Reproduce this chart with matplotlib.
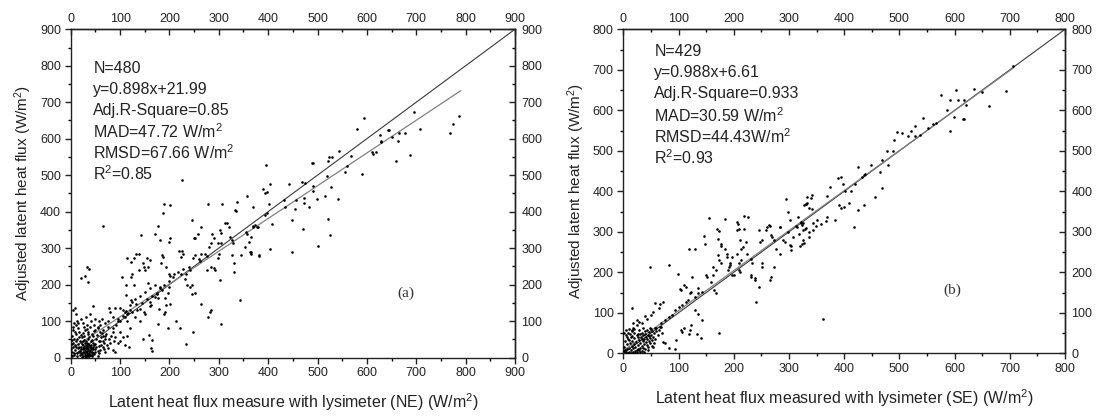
import matplotlib
matplotlib.use("Agg")
import matplotlib.pyplot as plt
import numpy as np
from matplotlib.ticker import MultipleLocator

plt.rcParams['font.family'] = ['Liberation Sans', 'DejaVu Sans']
plt.rcParams['mathtext.fontset'] = 'custom'
plt.rcParams['mathtext.rm'] = 'Liberation Sans'
plt.rcParams['mathtext.it'] = 'Liberation Sans:italic'

# panel (a): (lysimeter NE, adjusted flux) pairs
ne_upper = [(595, 656), (695, 672), (787, 661), (775, 641), (769, 616), (707, 627), (687, 554), (658, 539),
            (664, 594), (666, 616), (677, 615), (651, 605), (643, 624), (645, 624), (627, 609), (628, 595),
            (628, 590), (610, 563), (613, 557), (618, 563), (591, 504), (581, 626), (567, 553), (560, 525),
            (556, 508), (544, 567), (542, 435), (523, 551), (530, 551), (521, 539), (519, 498), (528, 467),
            (516, 443), (521, 379), (526, 336), (501, 306), (498, 435), (491, 471), (491, 457), (489, 533),
            (491, 533), (483, 412), (473, 425), (473, 437), (475, 478), (468, 481), (471, 352), (448, 377),
            (449, 290), (454, 406), (457, 432), (442, 475), (433, 433), (435, 413), (403, 475), (396, 528),
            (398, 453), (402, 421), (370, 413), (408, 366), (404, 298), (381, 279), (394, 392), (365, 331),
            (365, 288), (370, 360), (378, 358)]
ne_mid = [(65, 360), (20, 217), (28, 223), (32, 249), (37, 244), (35, 208), (226, 487), (190, 421), (201, 418),
          (186, 395), (177, 361), (170, 340), (181, 322), (199, 317), (202, 327), (143, 336), (133, 285),
          (128, 272), (122, 262), (114, 272), (138, 285), (155, 272), (160, 267), (146, 258), (148, 249),
          (156, 249), (103, 221), (112, 198), (128, 200), (122, 221), (124, 229), (138, 241), (150, 240),
          (156, 203), (112, 171), (122, 157), (124, 153), (117, 121), (111, 128), (133, 148), (141, 134),
          (149, 125), (160, 153), (162, 144), (174, 176), (181, 192), (183, 258), (185, 281), (186, 276),
          (193, 249), (199, 230), (207, 221), (202, 223), (199, 194), (192, 162), (197, 176), (176, 162),
          (179, 134), (193, 144), (202, 148), (188, 119), (192, 125), (176, 93), (197, 80), (214, 101),
          (222, 80), (233, 36), (248, 70), (165, 48), (163, 25), (165, 18), (158, 63), (146, 52), (220, 293),
          (226, 293), (228, 285), (224, 276), (224, 230), (227, 244), (217, 235), (234, 230), (241, 240),
          (240, 249), (231, 214), (236, 198), (241, 194), (245, 198), (252, 176), (245, 173), (247, 272),
          (252, 281), (259, 269), (257, 340), (264, 358), (245, 377), (250, 327), (252, 329), (261, 265),
          (263, 285), (273, 285), (277, 278), (280, 304), (284, 313), (284, 249), (290, 246), (292, 240),
          (277, 240), (263, 148), (283, 125), (284, 130), (279, 110), (287, 340), (291, 329), (302, 349),
          (304, 342), (298, 313), (304, 313), (300, 285), (304, 93), (302, 212), (278, 421), (307, 421),
          (312, 368), (316, 368), (321, 358), (298, 274), (323, 331), (326, 322), (328, 313), (326, 281),
          (330, 258), (330, 235), (332, 404), (335, 402), (337, 427), (342, 157), (344, 281), (355, 345),
          (358, 340), (362, 317), (353, 304), (358, 443), (363, 290), (366, 285), (370, 358), (373, 363),
          (380, 358), (382, 281), (390, 461), (394, 450), (397, 395)]
ne_low = [(5, 130), (8, 135), (10, 120), (12, 100), (15, 95), (5, 75), (3, 60), (20, 105), (25, 95), (30, 110),
          (40, 120), (45, 140), (50, 105), (55, 85), (60, 90), (65, 75), (70, 60), (75, 100), (78, 135),
          (80, 125), (85, 110), (90, 135), (95, 100), (100, 135), (105, 130), (110, 125), (115, 100),
          (120, 130), (85, 70), (90, 55), (95, 40), (100, 45), (85, 20), (90, 15), (105, 55), (110, 35),
          (115, 60), (118, 30), (120, 80), (100, 70), (80, 40), (75, 25), (70, 15), (60, 20), (65, 45),
          (125, 125), (135, 130), (145, 150), (155, 160), (165, 170), (175, 175), (185, 185), (130, 110),
          (150, 120), (140, 100), (160, 140), (170, 165), (180, 190), (190, 200), (200, 210), (210, 230),
          (160, 190), (170, 200), (140, 170), (150, 180), (120, 145), (130, 160), (110, 110), (100, 100),
          (105, 115), (115, 120)]
ne_core = [(2, 5), (3, 15), (4, 28), (5, 40), (6, 52), (7, 8), (8, 20), (9, 33), (10, 45), (11, 65), (12, 3),
           (13, 12), (14, 25), (15, 38), (16, 55), (17, 70), (18, 6), (19, 18), (20, 30), (21, 42), (22, 2),
           (23, 10), (24, 22), (25, 35), (26, 48), (27, 60), (28, 75), (29, 4), (30, 14), (31, 26), (32, 8),
           (33, 18), (34, 40), (35, 52), (36, 65), (37, 3), (38, 12), (39, 28), (40, 20), (41, 35), (42, 45),
           (43, 6), (44, 16), (45, 30), (46, 58), (47, 72), (48, 10), (49, 24), (50, 38), (52, 50), (54, 62),
           (56, 18), (58, 32), (60, 44), (62, 55), (64, 68), (66, 28), (68, 40), (70, 52), (72, 65), (25, 5),
           (27, 15), (30, 2), (32, 28), (35, 10), (36, 22), (38, 33), (40, 8), (42, 25), (44, 48), (28, 40),
           (22, 55), (18, 45), (14, 80), (10, 88), (6, 95), (24, 68), (33, 78), (40, 85), (48, 90), (55, 80),
           (60, 70), (65, 58), (50, 15), (52, 28), (45, 12), (55, 5), (58, 12), (30, 45), (34, 32), (26, 25),
           (20, 12), (16, 30), (12, 50), (8, 70), (4, 85), (2, 38), (1, 22), (1, 8), (3, 48), (38, 55),
           (44, 65), (50, 75), (57, 45), (62, 35), (68, 22), (74, 35), (78, 50), (82, 60), (86, 80), (92, 90),
           (95, 105), (88, 45), (76, 85), (70, 95), (64, 105), (58, 100), (32, 90), (42, 100), (26, 85),
           (36, 70), (46, 40), (24, 45), (20, 62), (16, 15), (10, 28), (6, 12),
           (29, 10), (31, 5), (33, 12), (35, 3), (37, 17), (39, 7), (41, 14), (43, 24), (34, 25), (28, 20),
           (26, 30), (22, 36), (36, 38), (40, 30), (46, 22), (48, 34), (30, 35), (24, 15), (20, 22), (44, 4)]

# panel (b): (lysimeter SE, adjusted flux) pairs
se_upper = [(706, 709), (693, 647), (663, 610), (649, 646), (635, 652), (602, 651), (576, 638), (591, 625),
            (607, 625), (617, 625), (621, 612), (587, 600), (598, 583), (615, 578), (617, 579), (591, 549),
            (567, 569), (560, 566), (552, 556), (542, 581), (529, 562), (528, 537), (537, 539), (521, 548),
            (516, 536), (504, 543), (495, 546), (491, 526), (488, 500), (477, 499), (480, 465), (469, 477),
            (464, 447), (469, 409), (456, 386), (448, 465), (438, 443), (435, 440), (432, 436), (435, 365),
            (425, 461), (425, 353), (420, 419), (417, 312), (412, 402), (409, 370), (401, 401), (397, 418),
            (395, 435), (389, 433), (394, 358), (391, 365), (400, 361), (384, 328), (375, 410), (368, 388),
            (368, 337), (367, 327), (342, 390), (340, 383), (332, 371), (330, 368), (341, 356), (337, 358),
            (343, 323), (321, 323), (326, 321), (330, 310), (337, 287), (326, 280), (327, 272), (358, 320)]
se_mid = [(155, 335), (185, 331), (49, 212), (82, 217), (99, 197), (15, 111), (146, 289), (147, 271),
          (169, 307), (173, 301), (171, 283), (176, 271), (176, 264), (184, 258), (187, 246), (188, 238),
          (172, 242), (173, 230), (176, 222), (163, 213), (167, 205), (162, 193), (158, 176), (149, 193),
          (152, 189), (168, 148), (165, 156), (119, 258), (130, 258), (125, 189), (136, 162), (120, 148),
          (123, 152), (109, 168), (114, 164), (103, 160), (105, 156), (197, 238), (193, 222), (197, 193),
          (201, 193), (192, 213), (190, 205), (193, 217), (206, 324), (208, 320), (209, 308), (206, 304),
          (211, 279), (216, 263), (214, 258), (206, 246), (209, 222), (213, 230), (209, 205), (211, 201),
          (219, 340), (225, 336), (219, 308), (222, 275), (224, 246), (232, 234), (233, 222), (231, 193),
          (232, 189), (238, 185), (239, 180), (241, 127), (245, 164), (245, 304), (248, 275), (251, 279),
          (251, 222), (252, 213), (258, 305), (260, 312), (264, 316), (265, 315), (267, 291), (270, 287),
          (273, 281), (265, 180), (268, 189), (272, 213), (276, 258), (283, 312), (284, 313), (284, 246),
          (289, 279), (292, 275), (294, 382), (299, 349), (301, 330), (299, 299), (302, 267), (303, 264),
          (303, 256), (308, 287), (312, 314), (315, 312), (316, 336), (318, 295), (321, 324), (324, 316),
          (326, 304), (329, 308), (328, 365), (331, 368), (333, 386), (320, 264), (324, 271), (337, 299),
          (344, 305), (349, 315), (350, 328)]
se_low = [(136, 148), (142, 152), (130, 139), (117, 131), (114, 127), (107, 119), (101, 115), (94, 107),
          (88, 94), (82, 90), (75, 82), (69, 74), (66, 66), (59, 62), (93, 11), (82, 12), (53, 16), (72, 29),
          (75, 25), (96, 33), (104, 57), (107, 53), (110, 62), (120, 57), (123, 70), (119, 47), (134, 48),
          (140, 39), (174, 51), (361, 85), (136, 98), (142, 82), (130, 107), (58, 123), (66, 121), (72, 127),
          (64, 111), (53, 103), (50, 94), (43, 84), (29, 78), (33, 74), (24, 82), (39, 92), (18, 62), (15, 57)]
se_core = [(1, 5), (2, 15), (3, 30), (4, 45), (5, 2), (6, 10), (7, 22), (8, 35), (9, 50), (10, 4), (11, 14),
           (12, 26), (13, 40), (14, 8), (15, 18), (16, 30), (17, 2), (18, 12), (19, 24), (20, 38), (21, 6),
           (22, 16), (23, 28), (24, 45), (25, 3), (26, 10), (27, 20), (28, 32), (29, 8), (30, 14), (31, 26),
           (32, 40), (33, 5), (34, 18), (35, 30), (36, 12), (37, 22), (38, 35), (39, 48), (40, 10), (41, 28),
           (42, 20), (43, 36), (44, 44), (45, 15), (46, 30), (47, 52), (48, 25), (49, 38), (50, 45), (52, 32),
           (54, 40), (56, 50), (58, 35), (60, 55), (62, 45), (20, 50), (15, 55), (10, 60), (28, 58), (35, 62),
           (25, 70), (18, 75), (12, 48), (6, 40), (2, 50), (5, 58), (30, 48), (42, 58), (48, 62), (52, 18),
           (55, 25), (44, 8), (38, 4), (30, 2), (22, 1), (14, 1), (8, 1), (26, 40), (33, 50), (40, 55),
           (46, 42), (52, 55), (58, 62), (64, 58), (68, 65), (70, 50), (16, 42), (24, 8), (36, 44), (3, 8),
           (11, 32), (19, 60), (27, 48), (34, 36), (41, 40), (50, 60)]

ne_fit = (0.898, 21.99)
se_fit = (0.988, 6.61)

ne_stats = ["N=480", "y=0.898x+21.99", "Adj.R-Square=0.85",
            "MAD=47.72 W/m$^2$", "RMSD=67.66 W/m$^2$", "R$^2$=0.85"]
se_stats = ["N=429", "y=0.988x+6.61", "Adj.R-Square=0.933",
            "MAD=30.59 W/m$^2$", "RMSD=44.43W/m$^2$", "R$^2$=0.93"]

fig = plt.figure(figsize=(10.98, 4.16), dpi=100)
ax_a = fig.add_axes([0.0644, 0.1406, 0.4046, 0.789])
ax_b = fig.add_axes([0.5677, 0.1507, 0.4023, 0.7788])


def style_axes(ax, lim):
    ax.set_xlim(0, lim)
    ax.set_ylim(0, lim)
    top = ax.secondary_xaxis('top')
    right = ax.secondary_yaxis('right')
    for axis in (ax.xaxis, ax.yaxis, top.xaxis, right.yaxis):
        axis.set_major_locator(MultipleLocator(100))
        axis.set_minor_locator(MultipleLocator(50))
    ax.tick_params(which='major', direction='out', length=4.5, width=1, labelsize=9, pad=2.5,
                   colors='#222222')
    ax.tick_params(which='minor', direction='out', length=2.5, width=1)
    top.tick_params(which='major', direction='in', length=4.5, width=1, labelsize=9, pad=3,
                    colors='#222222')
    right.tick_params(which='major', direction='in', length=4.5, width=1, labelsize=9, pad=4.5,
                      colors='#222222')
    for sec in (top, right):
        sec.tick_params(which='minor', direction='in', length=2.5, width=1)
    for a in (ax, top, right):
        for s in a.spines.values():
            s.set_linewidth(1.0)
            s.set_color('#222222')


def draw_panel(ax, groups, fit, stats, lim, xfit_max, tag, tag_xy, text_xy, dy, xlabel):
    style_axes(ax, lim)
    ax.plot([0, lim], [0, lim], color='#3a3a3a', lw=0.8, zorder=2)
    xf = np.array([0, xfit_max])
    ax.plot(xf, fit[0] * xf + fit[1], color='#808080', lw=0.9, zorder=2)
    for g in groups:
        pts = np.array(g)
        ax.scatter(pts[:, 0], pts[:, 1], s=3.5, color='black', linewidths=0, zorder=3)
    for i, line in enumerate(stats):
        ax.text(text_xy[0], text_xy[1] - i * dy, line, transform=ax.transAxes,
                fontsize=11.5, va='center', ha='left', color='#222222')
    ax.text(tag_xy[0], tag_xy[1], tag, fontsize=11, family='Liberation Serif',
            ha='center', va='center', color='#333333')
    ax.set_xlabel(xlabel, fontsize=11.5, labelpad=9, color='#222222')
    ax.set_ylabel("Adjusted latent heat flux (W/m$^2$)", fontsize=11, labelpad=4, color='#222222')


draw_panel(ax_a, [ne_upper, ne_mid, ne_low, ne_core], ne_fit, ne_stats, 900, 790, "(a)", (678, 177),
           (0.051, 0.881), 0.064, "Latent heat flux measure with lysimeter (NE) (W/m$^2$)")
draw_panel(ax_b, [se_upper, se_mid, se_low, se_core], se_fit, se_stats, 800, 706, "(b)", (596, 156),
           (0.07, 0.933), 0.066, "Latent heat flux measured with lysimeter (SE) (W/m$^2$)")

fig.savefig("out.png", dpi=100)
